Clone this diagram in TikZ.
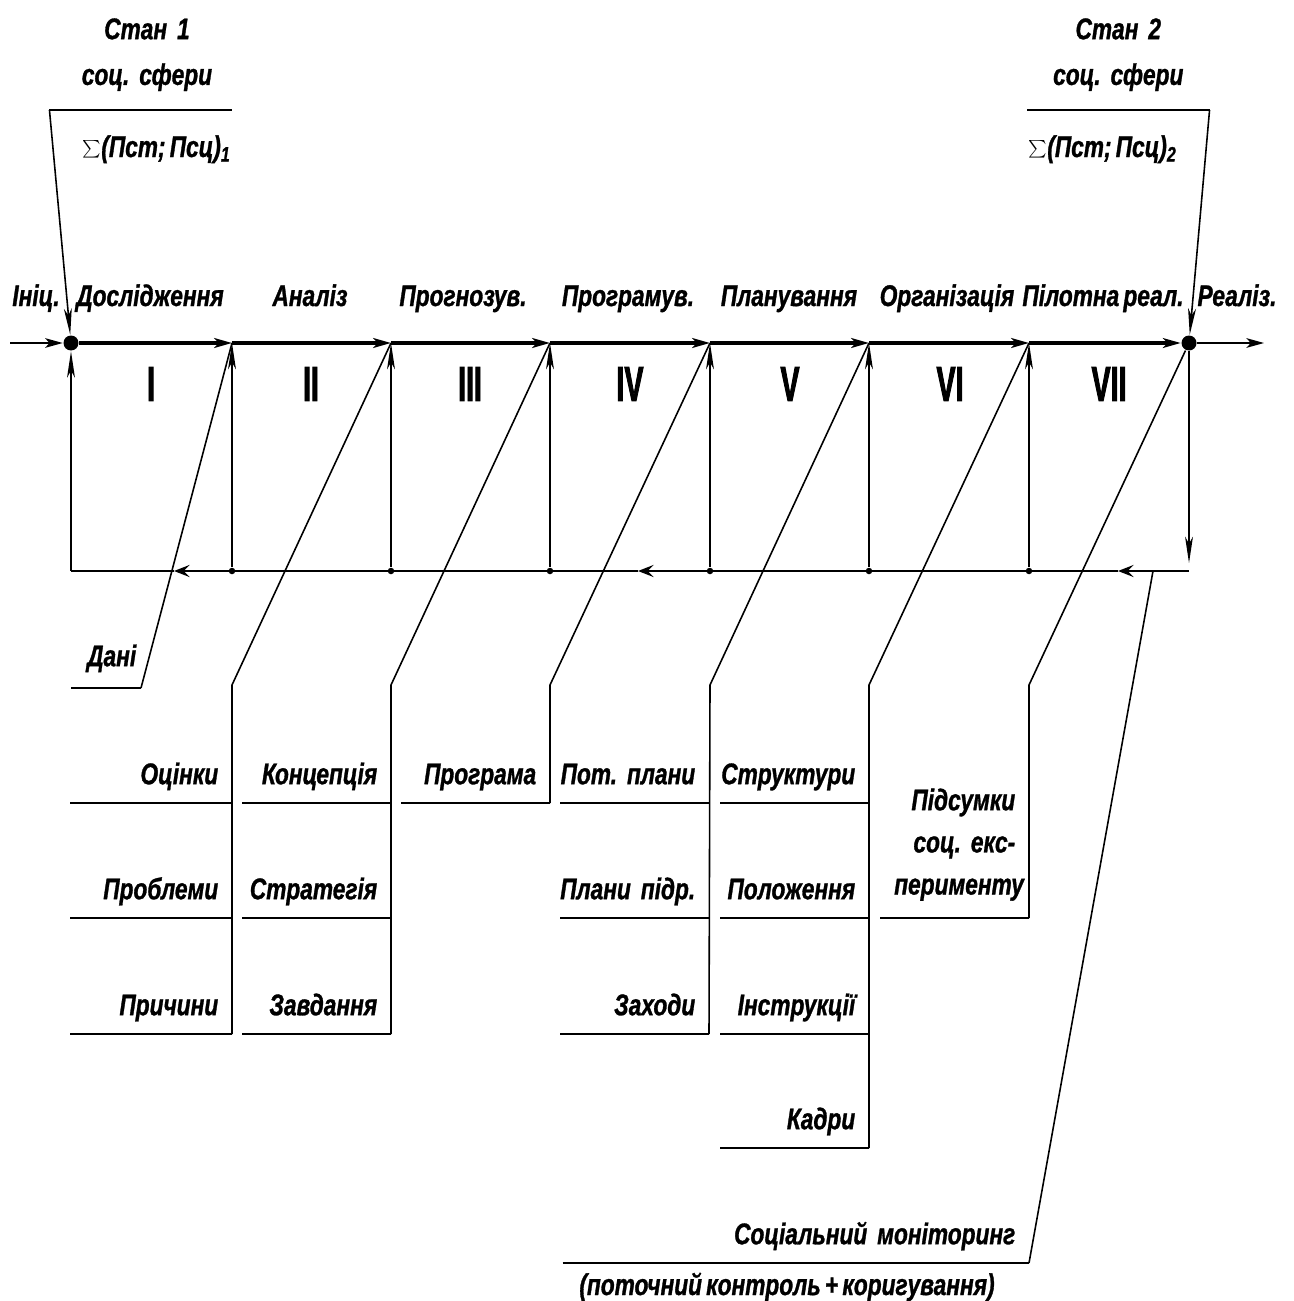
\documentclass[tikz,border=0pt]{standalone}
\usepackage{fontspec}
\setmainfont{Liberation Sans}
\newfontfamily\lblfont[FakeStretch=0.76, FakeBold=1]{Liberation Sans}
\newfontfamily\romfont[FakeStretch=0.58, FakeBold=1.8]{Liberation Sans}
\newcommand\lblsetup{\lblfont\bfseries\itshape\fontsize{17pt}{24pt}\selectfont\frenchspacing\spaceskip=0.14em\relax}
\usetikzlibrary{positioning, arrows.meta, calc}

\begin{document}
\begin{tikzpicture}[
    x=0.02cm, y=-0.02cm, % one unit is one pixel of the scheme, y runs down
    line width=0.9pt,
    every node/.style={font=\lblsetup},
    stage/.style={anchor=base, inner sep=0pt},
    roman/.style={font=\romfont\bfseries\fontsize{28pt}{28pt}\selectfont, inner sep=0pt},
    bigdot/.style={circle, fill, inner sep=0pt, minimum size=0.3cm},
    joint/.style={circle, fill, inner sep=0pt, minimum size=0.13cm},
    item/.style={anchor=south east, align=right, text width=2.42cm, inner xsep=0.26cm, inner ysep=0pt, text depth=0.36cm},
    wide/.style={text width=2.68cm},
    uline/.style={line width=1.2pt},
    axis/.style={line width=2.2pt, -{Stealth[length=10pt, width=5.5pt, inset=2.5pt]}},
    up/.style={-{Stealth[length=15pt, width=4.5pt, inset=4pt]}},
    back/.style={-{Stealth[length=9pt, width=7pt, inset=3.5pt]}}
]
    \useasboundingbox (0,0) rectangle (1294,1301);

    % Place the nodes
    \node[bigdot] (s) at (71,343) {};
    \node[bigdot] (f) at (1189,343) {};
    \coordinate (in) at (10,343);
    \coordinate (out) at (1264,343);
    \foreach \x [count=\i] in {232,391,550,710,869,1029} {
        \coordinate (a\i) at (\x,343);
        \node[joint] (j\i) at (\x,571) {};
        \coordinate (k\i) at (\x,685);
    }
    \coordinate (b0) at (71,571);
    \coordinate (b7) at (1189,571);
    \coordinate (m1) at (174,571);
    \coordinate (m4) at (638,571);
    \coordinate (m7) at (1118,571);
    \coordinate (monstart) at (1153,571);

    % stages on the axis
    \node[stage] (ini) at (36,306) {Ініц.};
    \node[stage] (dosl) at (150,306) {Дослідження};
    \node[stage] (anal) at (310,306) {Аналіз};
    \node[stage] (progn) at (463,306) {Прогнозув.};
    \node[stage] (progr) at (628,306) {Програмув.};
    \node[stage] (plan) at (789,306) {Планування};
    \node[stage] (org) at (947,306) {Організація};
    \node[stage] (pilot) at (1103,306) {Пілотна реал.};
    \node[stage] (real) at (1237,306) {Реаліз.};
    \foreach \x/\r in {151/I, 311/II, 470/III, 630/IV, 790/V, 950/VI, 1109/VII}
        \node[roman] (r\r) at (\x,384) {\r};

    % states of the social sphere
    \node[item, text width=3.1cm, align=center, text depth=1.4cm] (st1) at (232,110) {\hspace*{0.25cm}Стан 1\\[2pt]\hspace*{0.25cm}соц. сфери};
    \node[anchor=base west, inner sep=0pt] (sum1) at (82,157) {$\sum$(Пст; Псц)\textsubscript{1}};
    \node[item, anchor=south west, text width=3.1cm, align=center, text depth=1.4cm] (st2) at (1027,110) {Стан 2\\[2pt]соц. сфери};
    \node[anchor=base west, inner sep=0pt] (sum2) at (1028,157) {$\sum$(Пст; Псц)\textsubscript{2}};

    % results of the stages
    \node[item, text width=1.2cm, inner xsep=0.08cm, text depth=0.42cm] (dani) at (141,688) {Дані};
    \node[item, wide] (ocin) at (232,803) {\llap{Оцінки}};
    \node[item, wide] (probl) at (232,918) {\llap{Проблеми}};
    \node[item, wide] (prych) at (232,1034) {\llap{Причини}};
    \node[item] (konc) at (391,803) {\llap{Концепція}};
    \node[item] (strat) at (391,918) {\llap{Стратегія}};
    \node[item] (zavd) at (391,1034) {\llap{Завдання}};
    \node[item] (prog) at (550,803) {\llap{Програма}};
    \node[item] (potpl) at (709,803) {\llap{Пот. плани}};
    \node[item] (pidr) at (709,918) {\llap{Плани підр.}};
    \node[item] (zah) at (709,1034) {\llap{Заходи}};
    \node[item] (strk) at (869,803) {\llap{Структури}};
    \node[item] (polo) at (869,918) {\llap{Положення}};
    \node[item] (instr) at (869,1034) {\llap{Інструкції}};
    \node[item] (kadr) at (869,1148) {\llap{Кадри}};
    \node[item, text depth=2.14cm] (pids) at (1029,918) {Підсумки\\соц. екс-\\перименту};
    \node[item, text width=8.78cm] (soc) at (1029,1263) {\llap{Соціальний моніторинг}};
    \node[anchor=base, inner sep=0pt] (soc2) at (787,1295) {(поточний контроль + коригування)};

    % Draw the edges
    \draw[axis, line width=0.9pt] (in) -- (s);
    \draw[axis] (s) -- (a1);
    \draw[axis] (a1) -- (a2);
    \draw[axis] (a2) -- (a3);
    \draw[axis] (a3) -- (a4);
    \draw[axis] (a4) -- (a5);
    \draw[axis] (a5) -- (a6);
    \draw[axis] (a6) -- (f);
    \draw[axis, line width=0.9pt] (f) -- (out);

    % feedback loop
    \foreach \i in {1,...,6}
        \draw[up] (j\i) -- (a\i);
    \draw[up] (b0) -- (s);
    \draw[up, shorten >=0.16cm] (f) -- (b7);
    \draw[back] (b7) -- (m7);
    \draw[back] (m7) -- (m4);
    \draw[back] (m4) -- (m1);
    \draw (m1) -- (b0);

    % states into the dots
    \draw[uline] (st1.south west) -- (st1.south east);
    \draw[up] (st1.south west) -- (s);
    \draw[uline] (st2.south west) -- (st2.south east);
    \draw[up] (st2.south east) -- (f);

    % branches to the results
    \draw (a1) -- (dani.south east);
    \draw (a2) -- (k1) -- (prych.south east);
    \draw (a3) -- (k2) -- (zavd.south east);
    \draw (a4) -- (k3) -- (prog.south east);
    \draw (a5) -- (k4) -- (zah.south east);
    \draw (a6) -- (k5) -- (kadr.south east);
    \draw (f) -- (k6) -- (pids.south east);
    \draw (monstart) -- (soc.south east);
    \foreach \n in {dani, ocin, probl, prych, konc, strat, zavd, prog, potpl, pidr, zah, strk, polo, instr, kadr, pids, soc}
        \draw[uline] (\n.south west) -- (\n.south east);
\end{tikzpicture}
\end{document}
